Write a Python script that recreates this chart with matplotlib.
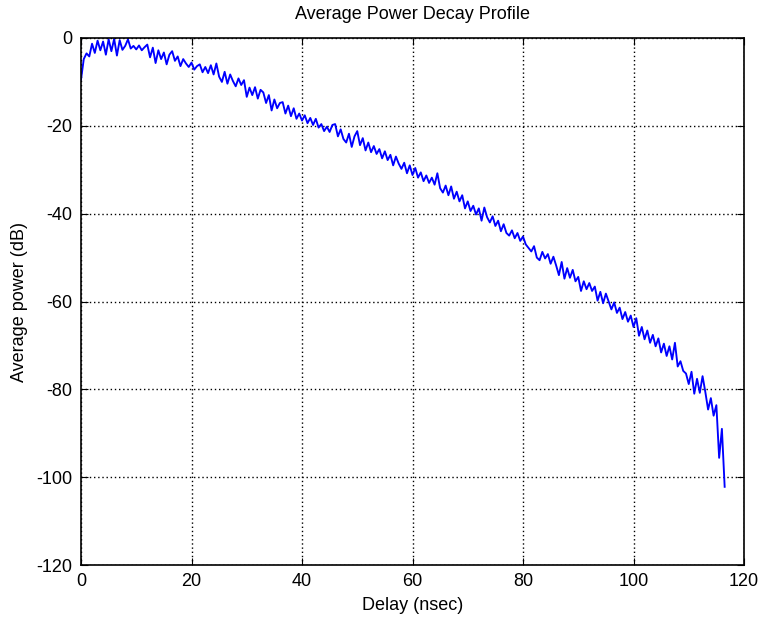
import numpy as np
import matplotlib
matplotlib.use("Agg")
import matplotlib.pyplot as plt

plt.rcParams['font.family'] = ['Liberation Sans', 'DejaVu Sans']
plt.rcParams['axes.unicode_minus'] = False

step_ns = 0.5
power_db = [
    # 0 - 10 ns
    -9.5, -4.8, -3.5, -4.2, -1.3, -3.4, -0.6, -2.8, -0.8, -3.8,
    -0.3, -3.0, -0.2, -4.0, -0.5, -2.7, -1.8, -0.3, -2.4, -1.8,
    # 10 - 20
    -2.6, -1.7, -2.8, -2.1, -1.5, -4.4, -2.2, -5.7, -2.8, -4.8,
    -3.3, -6.0, -3.8, -3.0, -5.2, -4.2, -6.4, -4.8, -5.8, -6.6,
    # 20 - 30
    -5.6, -7.2, -6.4, -6.0, -7.8, -6.6, -8.0, -6.2, -8.3, -5.8,
    -8.8, -10.0, -7.7, -10.4, -8.3, -9.8, -11.0, -9.2, -10.7, -9.6,
    # 30 - 40
    -13.4, -11.3, -13.0, -11.2, -13.8, -11.8, -12.4, -14.8, -13.0, -16.5,
    -14.0, -16.0, -14.8, -14.6, -17.2, -15.4, -17.8, -16.0, -18.4, -17.2,
    # 40 - 50
    -18.8, -17.6, -19.4, -18.2, -19.8, -18.4, -20.4, -19.6, -21.2, -20.2,
    -21.4, -19.8, -19.6, -22.4, -20.8, -23.0, -23.8, -21.8, -24.8, -22.4,
    # 50 - 60
    -21.2, -24.4, -22.8, -25.6, -23.8, -26.0, -24.6, -26.4, -25.3, -27.4,
    -25.8, -27.8, -26.6, -29.0, -27.0, -28.6, -29.8, -28.4, -30.8, -29.0,
    # 60 - 70
    -31.2, -29.6, -31.8, -30.6, -32.6, -31.3, -33.0, -31.8, -33.4, -30.8,
    -34.2, -35.2, -33.6, -35.8, -33.8, -36.6, -35.0, -37.2, -35.8, -38.8,
    # 70 - 80
    -37.2, -39.4, -38.2, -40.2, -38.8, -41.6, -38.6, -40.8, -42.0, -40.6,
    -42.8, -41.6, -44.0, -42.4, -44.4, -45.0, -43.8, -45.6, -44.4, -46.2,
    # 80 - 90
    -45.2, -47.0, -47.8, -48.6, -47.4, -50.0, -50.6, -48.7, -50.2, -49.2,
    -51.4, -49.8, -51.8, -54.0, -51.0, -54.8, -52.4, -54.6, -52.8, -55.4,
    # 90 - 100
    -54.4, -57.6, -55.4, -57.2, -55.8, -57.6, -56.6, -59.8, -57.8, -60.4,
    -58.2, -60.0, -61.8, -60.2, -62.6, -61.4, -64.0, -62.4, -64.6, -63.2,
    # 100 - 110
    -65.8, -63.8, -67.8, -65.8, -68.6, -66.6, -69.4, -67.6, -70.2, -68.4,
    -71.6, -69.6, -72.4, -70.2, -73.2, -69.4, -74.8, -73.6, -75.8, -76.4,
    # 110 - 116.5
    -78.8, -76.0, -81.0, -77.6, -80.8, -77.0, -80.6, -84.6, -82.0, -86.0,
    -83.6, -95.6, -89.0, -102.2,
]
delay_ns = np.arange(len(power_db)) * step_ns

x_ticks = [0, 20, 40, 60, 80, 100, 120]
y_ticks = [-120, -100, -80, -60, -40, -20, 0]

fig = plt.figure(figsize=(7.63, 6.17), dpi=100)
ax = fig.add_axes([81 / 763, 52 / 617, 663 / 763, 527 / 617])

ax.plot(delay_ns, power_db, color=(0, 0, 1), linewidth=1.35)

ax.set_xlim(0, 120)
ax.set_ylim(-120, 0)
ax.set_xticks(x_ticks)
ax.set_yticks(y_ticks)
ax.grid(True, color='black', linestyle=(0, (1, 2)), linewidth=1.0)
ax.tick_params(direction='in', top=True, right=True, length=5, width=0.8,
               labelsize=13, pad=6)
for s in ax.spines.values():
    s.set_linewidth(1.2)

ax.set_title('Average Power Decay Profile', fontsize=13, pad=14)
ax.set_xlabel('Delay (nsec)', fontsize=13, labelpad=5)
ax.set_ylabel('Average power (dB)', fontsize=13, labelpad=6)

fig.savefig('out.png', dpi=100)
